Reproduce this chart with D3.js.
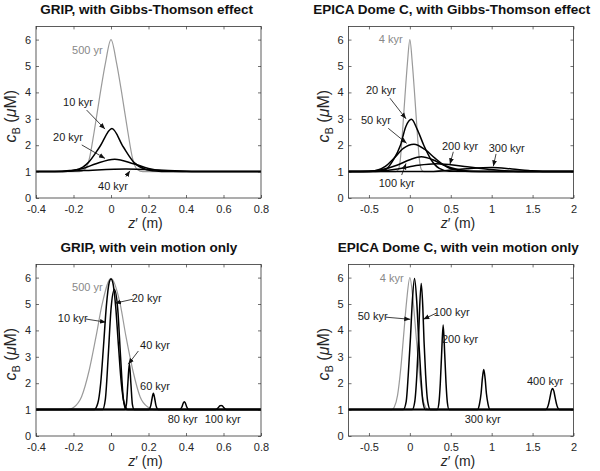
<!DOCTYPE html>
<html>
<head>
<meta charset="utf-8">
<script src="https://cdn.jsdelivr.net/npm/d3@7"></script>
<style>
body { margin: 0; background: #fff; }
text { font-family: "Liberation Sans", Arial, sans-serif; }
</style>
</head>
<body>
<script>
"use strict";

// ---- values: points are [z' (m), c_B (uM)] ----
const yTicks = [0, 1, 2, 3, 4, 5, 6];
const gripTicks = [-0.4, -0.2, 0, 0.2, 0.4, 0.6, 0.8];
const edcTicks = [-0.5, 0, 0.5, 1, 1.5, 2];

// GRIP, with Gibbs-Thomson effect
const gripGT500yr = [[-0.4,1],[-0.17,1],[-0.14,1.08],[-0.115,1.5],[-0.09,2.5],[-0.06,3.85],[-0.03,5.1],[0,6],
  [0.03,5.1],[0.06,3.85],[0.09,2.5],[0.115,1.5],[0.14,1.08],[0.17,1],[0.8,1]];
const gripGT10kyr = [[-0.4,1],[-0.26,1],[-0.2,1.04],[-0.15,1.17],[-0.12,1.35],[-0.06,1.94],[0.005,2.63],
  [0.065,1.94],[0.125,1.33],[0.18,1.1],[0.24,1.02],[0.3,1],[0.8,1]];
const gripGT20kyr = [[-0.4,1],[-0.3,1],[-0.22,1.04],[-0.15,1.12],[-0.08,1.3],[0.02,1.47],[0.12,1.3],
  [0.2,1.12],[0.28,1.03],[0.38,1],[0.8,1]];
const gripGT40kyr = [[-0.4,1],[-0.3,1],[-0.15,1.04],[0.08,1.1],[0.28,1.05],[0.45,1],[0.8,1]];

// EPICA Dome C, with Gibbs-Thomson effect
const edcGT4kyr = [[-0.75,1],[-0.17,1],[-0.14,1.08],[-0.115,1.5],[-0.09,2.5],[-0.06,3.85],[-0.03,5.1],[0,6],
  [0.03,5.1],[0.06,3.85],[0.09,2.5],[0.115,1.5],[0.14,1.08],[0.17,1],[2,1]];
const edcGT20kyr = [[-0.75,1],[-0.42,1],[-0.3,1.07],[-0.2,1.45],[-0.115,2.0],[-0.05,2.7],[0.02,2.98],
  [0.09,2.6],[0.17,2.0],[0.26,1.45],[0.36,1.12],[0.48,1.01],[2,1]];
const edcGT50kyr = [[-0.75,1],[-0.5,1],[-0.4,1.05],[-0.3,1.2],[-0.195,1.5],[-0.08,1.88],[0.05,2.04],
  [0.18,1.85],[0.31,1.5],[0.45,1.18],[0.6,1.04],[0.75,1],[2,1]];
const edcGT100kyr = [[-0.75,1],[-0.5,1.01],[-0.35,1.07],[-0.15,1.25],[0,1.45],[0.14,1.56],[0.28,1.45],
  [0.41,1.25],[0.6,1.07],[0.85,1],[2,1]];
const edcGT200kyr = [[-0.75,1],[-0.45,1.01],[-0.15,1.1],[0.1,1.24],[0.32,1.3],[0.5,1.26],[0.7,1.18],
  [0.95,1.09],[1.2,1.02],[1.45,1],[2,1]];
const edcGT300kyr = [[-0.75,1],[0.2,1],[0.45,1.04],[0.7,1.11],[1.0,1.16],[1.25,1.1],[1.45,1.04],[1.65,1],[2,1]];

// GRIP, with vein motion only
const gripVM500yr = [[-0.4,1],[-0.23,1],[-0.2,1.08],[-0.157,1.49],[-0.116,2.5],[-0.08,3.76],[-0.046,5.03],
  [0,5.97],[0.048,5.03],[0.08,3.76],[0.116,2.5],[0.155,1.49],[0.2,1.08],[0.23,1],[0.8,1]];
const gripVM10kyr = [[-0.4,1],[-0.09,1],[-0.07,1.25],[-0.055,2.0],[-0.04,3.4],[-0.025,4.9],[-0.01,5.8],
  [0,5.95],[0.01,5.8],[0.025,4.9],[0.04,3.4],[0.055,2.0],[0.07,1.25],[0.09,1],[0.8,1]];
const gripVM20kyr = [[-0.4,1],[-0.045,1],[-0.03,1.4],[-0.015,3.0],[0,4.8],[0.018,5.55],[0.036,4.8],
  [0.051,3.0],[0.066,1.4],[0.08,1],[0.8,1]];
const gripVM40kyr = [[-0.4,1],[0.072,1],[0.082,1.2],[0.09,2.0],[0.098,2.75],[0.106,2.0],[0.114,1.2],
  [0.124,1],[0.8,1]];
const gripVM60kyr = [[-0.4,1],[0.2,1],[0.212,1.15],[0.219,1.42],[0.226,1.62],[0.233,1.42],[0.24,1.15],
  [0.252,1],[0.8,1]];
const gripVM80kyr = [[-0.4,1],[0.365,1],[0.378,1.1],[0.385,1.24],[0.391,1.3],[0.397,1.24],[0.404,1.1],
  [0.417,1],[0.8,1]];
const gripVM100kyr = [[-0.4,1],[0.558,1],[0.572,1.07],[0.58,1.14],[0.587,1.16],[0.594,1.14],[0.602,1.07],
  [0.616,1],[0.8,1]];

// EPICA Dome C, with vein motion only
const edcVM4kyr = [[-0.75,1],[-0.22,1],[-0.19,1.1],[-0.15,1.55],[-0.11,2.6],[-0.075,3.85],[-0.04,5.1],[0,6],
  [0.04,5.1],[0.075,3.85],[0.11,2.6],[0.15,1.55],[0.19,1.1],[0.22,1],[2,1]];
const edcVM50kyr = [[-0.75,1],[-0.08,1],[-0.045,1.3],[-0.02,2.3],[0.008,3.76],[0.03,5.1],[0.057,5.97],
  [0.084,5.1],[0.106,3.76],[0.134,2.3],[0.159,1.3],[0.19,1],[2,1]];
const edcVM100kyr = [[-0.75,1],[0.03,1],[0.06,1.3],[0.085,2.3],[0.105,3.6],[0.12,4.9],[0.139,5.78],
  [0.158,4.9],[0.173,3.6],[0.193,2.3],[0.218,1.3],[0.25,1],[2,1]];
const edcVM200kyr = [[-0.75,1],[0.335,1],[0.355,1.25],[0.372,2.0],[0.388,3.1],[0.407,4.2],[0.426,3.1],
  [0.442,2.0],[0.459,1.25],[0.479,1],[2,1]];
const edcVM300kyr = [[-0.75,1],[0.825,1],[0.85,1.2],[0.87,1.6],[0.887,2.2],[0.903,2.52],[0.919,2.2],
  [0.936,1.6],[0.956,1.2],[0.981,1],[2,1]];
const edcVM400kyr = [[-0.75,1],[1.66,1],[1.69,1.15],[1.712,1.45],[1.728,1.7],[1.744,1.8],[1.76,1.7],
  [1.776,1.45],[1.798,1.15],[1.828,1],[2,1]];

// annotations: [text, z, c, grey?]  arrows: [zFrom, cFrom, zTo, cTo]
const gripGTLabels = [["500 yr",-0.126,5.6,true],["10 kyr",-0.176,3.64],["20 kyr",-0.229,2.31],["40 kyr",0.011,0.45]];
const gripGTArrows = [[-0.13,3.33,-0.032,2.61],[-0.156,2.01,-0.032,1.5],[0.08,0.81,0.101,1.03]];
const edcGTLabels = [["4 kyr",-0.234,6.0,true],["20 kyr",-0.353,4.09],["50 kyr",-0.414,2.95],
  ["100 kyr",-0.161,0.557],["200 kyr",0.613,1.98],["300 kyr",1.184,1.905]];
const edcGTArrows = [[-0.243,3.78,-0.047,3.0],[-0.264,2.64,-0.039,2.07],[-0.1,0.87,-0.047,1.31],
  [0.531,1.75,0.49,1.28],[1.053,1.67,1.02,1.2]];
const gripVMLabels = [["500 yr",-0.126,5.655,true],["20 kyr",0.19,5.22],["10 kyr",-0.204,4.46],
  ["40 kyr",0.235,3.44],["60 kyr",0.235,1.89],["80 kyr",0.382,0.64],["100 kyr",0.596,0.64]];
const gripVMArrows = [[0.116,5.18,0.021,5.03],[-0.133,4.43,-0.027,4.31],[0.146,3.22,0.092,2.72]];
const edcVMLabels = [["4 kyr",-0.222,5.97,true],["50 kyr",-0.454,4.55],["100 kyr",0.511,4.7],
  ["200 kyr",0.613,3.67],["400 kyr",1.652,2.09],["300 kyr",0.89,0.64]];
const edcVMArrows = [[-0.292,4.5,0.005,4.42],[0.328,4.66,0.164,4.42]];

// ---- layout ----
const colX = [[36, 261], [348.5, 573.5]];
const rowY = [[198, 26.4], [436, 264.4]];

const panels = [
  { title: "GRIP, with Gibbs-Thomson effect", col: 0, row: 0, titleX: 146.7, domain: [-0.4, 0.8], ticks: gripTicks,
    grey: [gripGT500yr], black: [gripGT10kyr, gripGT20kyr, gripGT40kyr], labels: gripGTLabels, arrows: gripGTArrows },
  { title: "EPICA Dome C, with Gibbs-Thomson effect", col: 1, row: 0, titleX: 451.7, domain: [-0.75, 2], ticks: edcTicks,
    grey: [edcGT4kyr], black: [edcGT20kyr, edcGT50kyr, edcGT100kyr, edcGT200kyr, edcGT300kyr], labels: edcGTLabels, arrows: edcGTArrows },
  { title: "GRIP, with vein motion only", col: 0, row: 1, titleX: 148.8, domain: [-0.4, 0.8], ticks: gripTicks,
    grey: [gripVM500yr], black: [gripVM10kyr, gripVM20kyr, gripVM40kyr, gripVM60kyr, gripVM80kyr, gripVM100kyr], labels: gripVMLabels, arrows: gripVMArrows },
  { title: "EPICA Dome C, with vein motion only", col: 1, row: 1, titleX: 458.3, domain: [-0.75, 2], ticks: edcTicks,
    grey: [edcVM4kyr], black: [edcVM50kyr, edcVM100kyr, edcVM200kyr, edcVM300kyr, edcVM400kyr], labels: edcVMLabels, arrows: edcVMArrows }
];

const axisColor = "#333";
const greyColor = "#9a9a9a";

let svg = d3.select("body").append("svg")
  .attr("width", 600)
  .attr("height", 471);

svg.append("defs").append("marker")
  .attr("id", "head")
  .attr("viewBox", "0 0 10 10")
  .attr("refX", 10)
  .attr("refY", 5)
  .attr("markerWidth", 6)
  .attr("markerHeight", 6)
  .attr("markerUnits", "userSpaceOnUse")
  .attr("orient", "auto")
  .append("path")
  .attr("d", "M0,1L10,5L0,9Z")
  .attr("fill", "#111");

panels.forEach(p => drawPanel(p));

function drawPanel(p) {
  let [x0, x1] = colX[p.col];
  let [y0, y1] = rowY[p.row];
  let x = d3.scaleLinear().domain(p.domain).range([x0, x1]);
  let y = d3.scaleLinear().domain([0, 6.5]).range([y0, y1]);
  let g = svg.append("g");

  let fmt = d => String(d);
  let styleAxis = a => {
    a.select(".domain").remove();
    a.selectAll("line").attr("stroke", axisColor).attr("stroke-width", 0.7);
    a.selectAll("text").attr("fill", "#262626").attr("font-size", 11)
      .attr("font-family", "'Liberation Sans', Arial, sans-serif");
  };

  g.append("g").attr("transform", `translate(0,${y0})`)
    .call(d3.axisBottom(x).tickValues(p.ticks).tickSizeInner(-3).tickSizeOuter(0).tickPadding(7).tickFormat(fmt))
    .call(styleAxis);
  g.append("g").attr("transform", `translate(0,${y1})`)
    .call(d3.axisTop(x).tickValues(p.ticks).tickSizeInner(-3).tickSizeOuter(0).tickFormat(""))
    .call(styleAxis);
  g.append("g").attr("transform", `translate(${x0},0)`)
    .call(d3.axisLeft(y).tickValues(yTicks).tickSizeInner(-3).tickSizeOuter(0).tickPadding(5).tickFormat(fmt))
    .call(styleAxis);
  g.append("g").attr("transform", `translate(${x1},0)`)
    .call(d3.axisRight(y).tickValues(yTicks).tickSizeInner(-3).tickSizeOuter(0).tickFormat(""))
    .call(styleAxis);

  let line = d3.line()
    .x(d => x(d[0]))
    .y(d => y(d[1]))
    .curve(d3.curveMonotoneX);

  g.append("g").selectAll("path")
    .data(p.grey)
    .enter()
    .append("path")
    .attr("d", line)
    .attr("fill", "none")
    .attr("stroke", greyColor)
    .attr("stroke-width", 1.2);

  g.append("g").selectAll("path")
    .data(p.black)
    .enter()
    .append("path")
    .attr("d", line)
    .attr("fill", "none")
    .attr("stroke", "#000")
    .attr("stroke-width", 1.5);

  g.append("rect")
    .attr("x", x0).attr("y", y1)
    .attr("width", x1 - x0).attr("height", y0 - y1)
    .attr("fill", "none")
    .attr("stroke", axisColor)
    .attr("stroke-width", 0.8);

  g.append("g").selectAll("line")
    .data(p.arrows)
    .enter()
    .append("line")
    .attr("x1", d => x(d[0]))
    .attr("y1", d => y(d[1]))
    .attr("x2", d => x(d[2]))
    .attr("y2", d => y(d[3]))
    .attr("stroke", "#111")
    .attr("stroke-width", 0.8)
    .attr("marker-end", "url(#head)");

  g.append("g").selectAll("text")
    .data(p.labels)
    .enter()
    .append("text")
    .attr("x", d => x(d[1]))
    .attr("y", d => y(d[2]))
    .attr("dy", "0.35em")
    .attr("text-anchor", "middle")
    .attr("font-size", 11)
    .attr("fill", d => d[3] ? "#888" : "#1a1a1a")
    .text(d => d[0]);

  // title
  g.append("text")
    .attr("x", p.titleX)
    .attr("y", y1 - 12)
    .attr("text-anchor", "middle")
    .attr("font-size", 13.5)
    .attr("font-weight", "bold")
    .attr("fill", "#111")
    .text(p.title);

  // x label
  let xl = g.append("text")
    .attr("x", (x0 + x1) / 2 - 3)
    .attr("y", y0 + 30)
    .attr("text-anchor", "middle")
    .attr("font-size", 14)
    .attr("fill", "#262626");
  xl.append("tspan").attr("font-style", "italic").text("z");
  xl.append("tspan").text("\u2032 (m)");

  // y label
  let yl = g.append("text")
    .attr("transform", `translate(${x0 - 20},${(y0 + y1) / 2 + 4}) rotate(-90)`)
    .attr("text-anchor", "middle")
    .attr("font-size", 16)
    .attr("fill", "#262626");
  yl.append("tspan").attr("font-style", "italic").text("c");
  yl.append("tspan").attr("font-size", 11).attr("dy", 4).text("B");
  yl.append("tspan").attr("dy", -4).text(" (");
  yl.append("tspan").attr("font-style", "italic").text("\u03bc");
  yl.append("tspan").text("M)");
}
</script>
</body>
</html>
